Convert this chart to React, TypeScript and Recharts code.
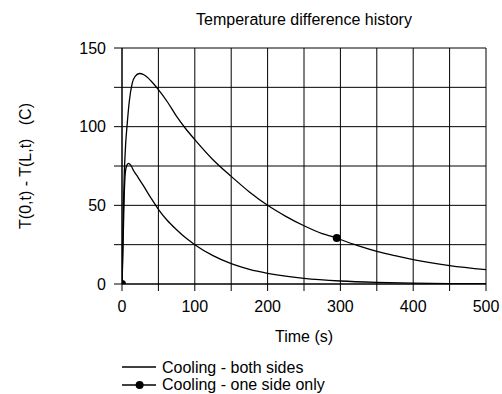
import { LineChart, Line, XAxis, YAxis, CartesianGrid, Legend } from 'recharts'

// Cooling - both sides (lower curve)
const bothTime = [0, 1, 2, 3, 4, 5, 7, 9, 12, 16, 22, 30, 40, 50, 62, 75, 87, 100, 125, 150, 175, 200, 250, 300, 350, 400, 450, 500]
const bothDiff = [0, 15, 36, 55, 67, 72.5, 75.8, 76.7, 75.5, 72, 67.8, 62, 54.5, 47.5, 40.5, 34.5, 29.5, 25, 18, 12.9, 9.3, 6.8, 3.6, 1.9, 1.0, 0.5, 0.3, 0.15]

// Cooling - one side only (upper curve)
const oneTime = [0, 1, 2, 3, 4, 5, 7, 10, 14, 18, 24, 30, 40, 50, 62, 75, 87, 100, 125, 150, 175, 200, 225, 250, 275, 295, 300, 325, 350, 375, 400, 450, 500]
const oneDiff = [0, 25, 50, 68, 80, 89, 101, 116, 127.5, 132, 133.8, 133, 129, 123.5, 116, 106.5, 99, 91.8, 79, 68.4, 58.5, 50, 43, 37, 32, 29.3, 28.3, 24.3, 20.8, 18, 15.5, 11.7, 9.1]

// times where the one-side curve carries a marker
const markTimes = [0, 295]

const seriesNames = ['Cooling - both sides', 'Cooling - one side only']
const xTicks = [0, 50, 100, 150, 200, 250, 300, 350, 400, 450, 500]
const yTicks = [0, 25, 50, 75, 100, 125, 150]

const both = bothTime.map((t, i) => ({ t, v: bothDiff[i] }))
const one = oneTime.map((t, i) => ({ t, v: oneDiff[i] }))

const FONT = '"Liberation Sans", Arial, sans-serif'

function MarkDot(props: any) {
  const { cx, cy, payload, index } = props
  if (!markTimes.includes(payload.t)) return <g key={`d-${index}`} />
  return <circle key={`d-${index}`} cx={cx} cy={cy} r={4} fill="#000" stroke="none" />
}

function LegendBox({ payload }: any) {
  const items = [...(payload || [])].sort(
    (a: any, b: any) => seriesNames.indexOf(a.value) - seriesNames.indexOf(b.value)
  )
  return (
    <div style={{ fontSize: 16, lineHeight: '17.4px', color: '#000', fontFamily: FONT }}>
      {items.map((p: any) => (
        <div key={p.value} style={{ display: 'flex', alignItems: 'center', height: 17.4 }}>
          <svg width={34} height={17} style={{ display: 'block' }}>
            <line x1={0} x2={34} y1={8} y2={8} stroke="#000" strokeWidth={1.3} />
            {p.value === seriesNames[1] && <circle cx={17.6} cy={8} r={4} fill="#000" />}
          </svg>
          <span style={{ marginLeft: 6, whiteSpace: 'nowrap' }}>{p.value}</span>
        </div>
      ))}
    </div>
  )
}

export default function App() {
  return (
    <div
      style={{
        position: 'absolute',
        left: 0,
        top: 0,
        width: 502,
        height: 394,
        background: '#fff',
        fontFamily: FONT
      }}
    >
      <div
        style={{
          position: 'absolute',
          top: 12,
          left: 122,
          width: 364,
          textAlign: 'center',
          fontSize: 16,
          lineHeight: '16px',
          color: '#000'
        }}
      >
        Temperature difference history
      </div>
      <LineChart width={502} height={394} margin={{ top: 48, right: 16, bottom: 80, left: 0 }}>
        <CartesianGrid stroke="#000" strokeWidth={1} />
        <XAxis
          dataKey="t"
          type="number"
          domain={[0, 500]}
          ticks={xTicks}
          allowDataOverflow
          height={30}
          tickSize={7}
          tickMargin={10}
          interval={0}
          axisLine={{ stroke: '#000' }}
          tickLine={{ stroke: '#000' }}
          tick={{ fill: '#000', fontSize: 16 }}
          tickFormatter={(v: number) => (v % 100 === 0 ? String(v) : '')}
          label={{ value: 'Time (s)', position: 'bottom', offset: 17, fill: '#000', fontSize: 16 }}
        />
        <YAxis
          type="number"
          domain={[0, 150]}
          ticks={yTicks}
          allowDataOverflow
          width={122}
          tickSize={8}
          tickMargin={8}
          interval={0}
          axisLine={{ stroke: '#000' }}
          tickLine={{ stroke: '#000' }}
          tick={{ fill: '#000', fontSize: 16 }}
          tickFormatter={(v: number) => (v % 50 === 0 ? String(v) : '')}
          label={{
            value: 'T(0,t) - T(L,t)\u00A0\u00A0\u00A0(C)',
            angle: -90,
            position: 'insideLeft',
            offset: 25,
            fill: '#000',
            fontSize: 16,
            style: { textAnchor: 'middle' }
          }}
        />
        <Legend
          layout="vertical"
          align="center"
          verticalAlign="middle"
          content={LegendBox}
          wrapperStyle={{ top: 359, left: 122, right: 'auto', bottom: 'auto', width: 'auto' }}
        />
        <Line
          data={both}
          dataKey="v"
          name={seriesNames[0]}
          type="monotone"
          stroke="#000"
          strokeWidth={1.3}
          dot={false}
          activeDot={false}
          isAnimationActive={false}
        />
        <Line
          data={one}
          dataKey="v"
          name={seriesNames[1]}
          type="monotone"
          stroke="#000"
          strokeWidth={1.3}
          dot={MarkDot}
          activeDot={false}
          isAnimationActive={false}
        />
      </LineChart>
    </div>
  )
}
